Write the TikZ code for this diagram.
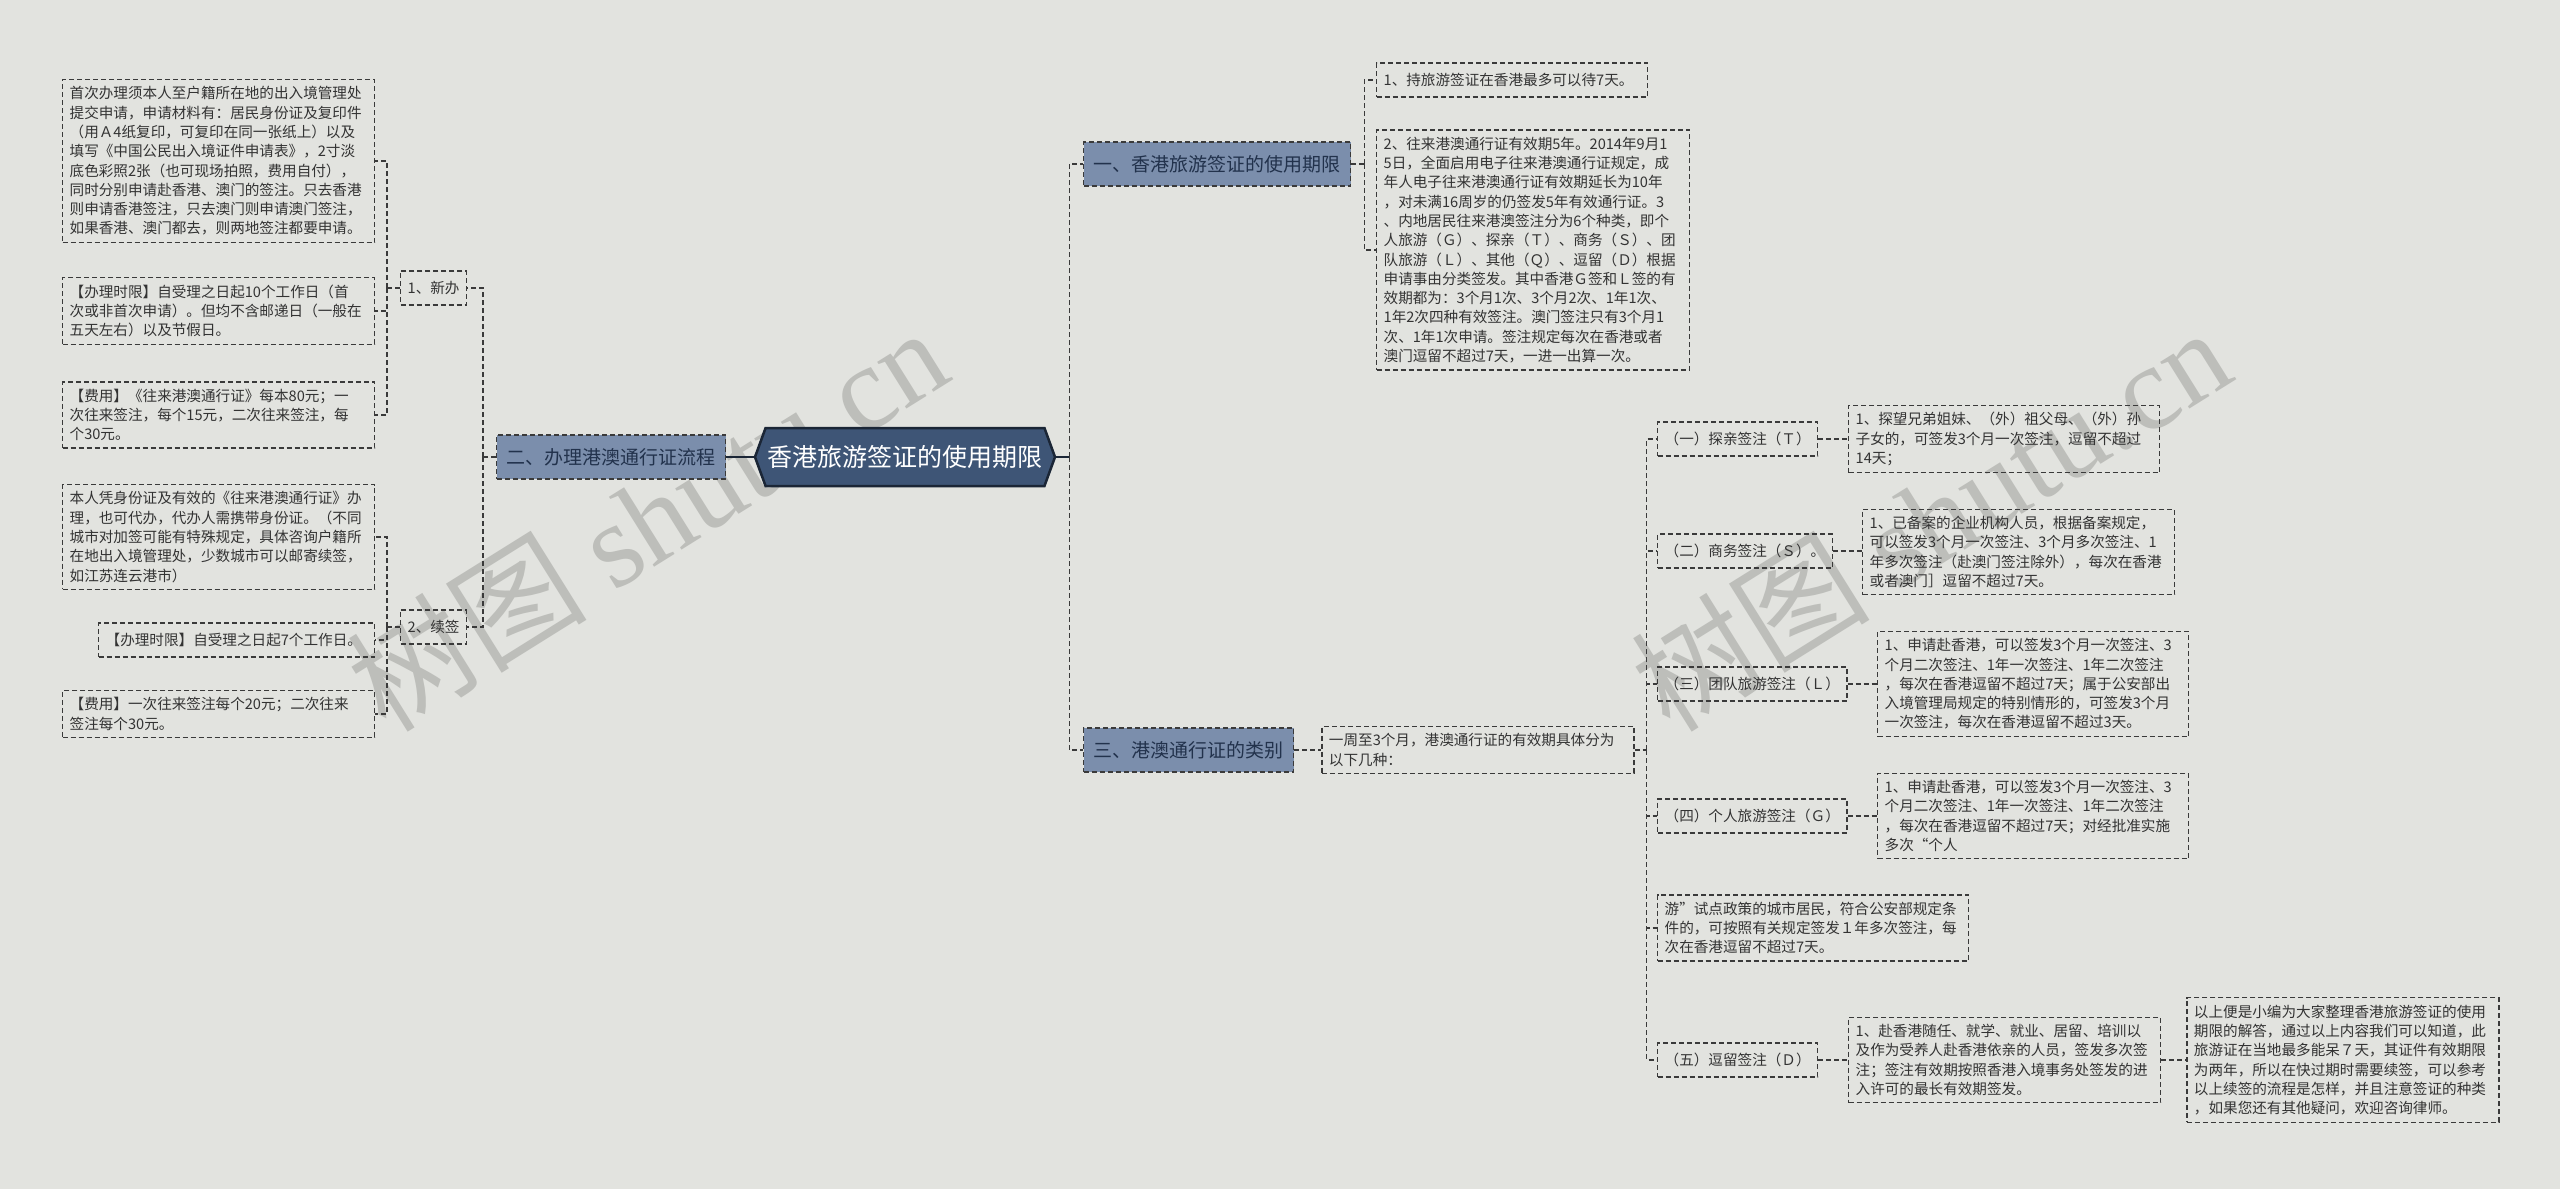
\documentclass[tikz,border=0pt]{standalone}
\usepackage{fontspec}
\setmainfont{Noto Sans CJK SC}
\newfontfamily\wmserif{Liberation Serif}
\usetikzlibrary{positioning,shapes.symbols}

\definecolor{bgc}{HTML}{E2E3DF}
\definecolor{linec}{HTML}{3A3A3A}
\definecolor{leaftext}{HTML}{333333}
\definecolor{catfill}{HTML}{7B8EAC}
\definecolor{cattext}{HTML}{22324C}
\definecolor{rootfill}{HTML}{3E5576}
\definecolor{rootline}{HTML}{1B2636}
\definecolor{wmc}{HTML}{BDBEBA}

\tikzset{
  leaf/.style={draw=linec,line width=1.3pt,dash pattern=on 5pt off 3pt,inner xsep=7pt,inner ysep=7pt,
    minimum height=34pt,align=left,anchor=west,text=leaftext,font=\fontsize{14.6pt}{19.3pt}\selectfont},
  cat/.style={draw=linec,line width=1.3pt,dash pattern=on 5pt off 3pt,fill=catfill,text=cattext,
    inner xsep=10pt,minimum height=44pt,anchor=west,font=\fontsize{19pt}{23pt}\selectfont},
  link/.style={draw=linec,line width=1.3pt,dash pattern=on 5pt off 3pt},
  trunk/.style={draw=rootline,line width=2pt},
  wm/.style={text=wmc,font=\fontsize{120pt}{130pt}\selectfont,inner sep=0pt}
}

\begin{document}
\begin{tikzpicture}[x=1pt,y=-1pt]
  \fill[bgc] (0,0) rectangle (2560,1189);
  \useasboundingbox (0,0) rectangle (2560,1189);
  \node[wm,rotate=32] (wml) at (647,518) {树图 {\wmserif shutu.cn}};
  \node[wm,rotate=32] (wmr) at (1930,518) {树图 {\wmserif shutu.cn}};

  \node[signal,signal to=west and east,signal pointer angle=140,fill=rootfill,draw=rootline,line width=2.5pt,
    text=white,font=\fontsize{25pt}{30pt}\selectfont,minimum width=300pt,minimum height=58pt,inner sep=0pt]
    (root) at (905,457) {香港旅游签证的使用期限};

  \node[cat] (two) at (496,457) {二、办理港澳通行证流程};
  \node[leaf] (xinban) at (400,288) {1、新办};
  \node[leaf] (xuqian) at (400,627) {2、续签};
  \node[leaf,text width=298pt] (a1) at (62,161) {首次办理须本人至户籍所在地的出入境管理处\\提交申请，申请材料有：居民身份证及复印件\\（用Ａ4纸复印，可复印在同一张纸上）以及\\填写《中国公民出入境证件申请表》，2寸淡\\底色彩照2张（也可现场拍照，费用自付），\\同时分别申请赴香港、澳门的签注。只去香港\\则申请香港签注，只去澳门则申请澳门签注，\\如果香港、澳门都去，则两地签注都要申请。};
  \node[leaf,text width=298pt] (a2) at (62,311) {【办理时限】自受理之日起10个工作日（首\\次或非首次申请）。但均不含邮递日（一般在\\五天左右）以及节假日。};
  \node[leaf,text width=298pt] (a3) at (62,415) {【费用】《往来港澳通行证》每本80元；一\\次往来签注，每个15元，二次往来签注，每\\个30元。};
  \node[leaf,text width=298pt] (b1) at (62,537) {本人凭身份证及有效的《往来港澳通行证》办\\理，也可代办，代办人需携带身份证。（不同\\城市对加签可能有特殊规定，具体咨询户籍所\\在地出入境管理处，少数城市可以邮寄续签，\\如江苏连云港市）};
  \node[leaf,text width=262pt] (b2) at (98,640) {【办理时限】自受理之日起7个工作日。};
  \node[leaf,text width=298pt] (b3) at (62,714) {【费用】一次往来签注每个20元；二次往来\\签注每个30元。};

  \node[cat] (one) at (1083,164) {一、香港旅游签证的使用期限};
  \node[leaf,text width=257pt] (r1) at (1376,80) {1、持旅游签证在香港最多可以待7天。};
  \node[leaf,text width=299pt] (r2) at (1376,250) {2、往来港澳通行证有效期5年。2014年9月1\\5日，全面启用电子往来港澳通行证规定，成\\年人电子往来港澳通行证有效期延长为10年\\，对未满16周岁的仍签发5年有效通行证。3\\、内地居民往来港澳签注分为6个种类，即个\\人旅游（Ｇ）、探亲（Ｔ）、商务（Ｓ）、团\\队旅游（Ｌ）、其他（Ｑ）、逗留（Ｄ）根据\\申请事由分类签发。其中香港Ｇ签和Ｌ签的有\\效期都为：3个月1次、3个月2次、1年1次、\\1年2次四种有效签注。澳门签注只有3个月1\\次、1年1次申请。签注规定每次在香港或者\\澳门逗留不超过7天，一进一出算一次。};

  \node[cat] (three) at (1083,750) {三、港澳通行证的类别};
  \node[leaf,text width=298pt,right=27pt of three] (mid) {一周至3个月，港澳通行证的有效期具体分为\\以下几种：};
  \node[leaf] (t) at (1657,439) {（一）探亲签注（Ｔ）};
  \node[leaf,text width=297pt] (td) at (1848,439) {1、探望兄弟姐妹、（外）祖父母、（外）孙\\子女的，可签发3个月一次签注，逗留不超过\\14天；};
  \node[leaf] (s) at (1657,551) {（二）商务签注（Ｓ）。};
  \node[leaf,text width=298pt] (sd) at (1862,552) {1、已备案的企业机构人员，根据备案规定，\\可以签发3个月一次签注、3个月多次签注、1\\年多次签注（赴澳门签注除外），每次在香港\\或者澳门］逗留不超过7天。};
  \node[leaf] (l) at (1657,684) {（三）团队旅游签注（Ｌ）};
  \node[leaf,text width=297pt] (ld) at (1877,684) {1、申请赴香港，可以签发3个月一次签注、3\\个月二次签注、1年一次签注、1年二次签注\\，每次在香港逗留不超过7天；属于公安部出\\入境管理局规定的特别情形的，可签发3个月\\一次签注，每次在香港逗留不超过3天。};
  \node[leaf] (g) at (1657,816) {（四）个人旅游签注（Ｇ）};
  \node[leaf,text width=297pt] (gd) at (1877,816) {1、申请赴香港，可以签发3个月一次签注、3\\个月二次签注、1年一次签注、1年二次签注\\，每次在香港逗留不超过7天；对经批准实施\\多次“个人};
  \node[leaf,text width=297pt] (you) at (1657,928) {游”试点政策的城市居民，符合公安部规定条\\件的，可按照有关规定签发１年多次签注，每\\次在香港逗留不超过7天。};
  \node[leaf] (d) at (1657,1060) {（五）逗留签注（Ｄ）};
  \node[leaf,text width=298pt] (dd) at (1848,1060) {1、赴香港随任、就学、就业、居留、培训以\\及作为受养人赴香港依亲的人员，签发多次签\\注；签注有效期按照香港入境事务处签发的进\\入许可的最长有效期签发。};
  \node[leaf,text width=298pt,right=25pt of dd] (fin) {以上便是小编为大家整理香港旅游签证的使用\\期限的解答，通过以上内容我们可以知道，此\\旅游证在当地最多能呆７天，其证件有效期限\\为两年，所以在快过期时需要续签，可以参考\\以上续签的流程是怎样，并且注意签证的种类\\，如果您还有其他疑问，欢迎咨询律师。};

  \draw[trunk] (two.east) -- (root.west);
  \draw[trunk] (root.east) -- ++(13,0) coordinate (rj);
  \draw[link] (rj) |- (one.west);
  \draw[link] (rj) |- (three.west);
  \draw[link] (one.east) -- ++(13,0) coordinate (oj);
  \foreach \n in {r1,r2} \draw[link] (oj) |- (\n.west);
  \draw[link] (three.east) -- (mid.west);
  \draw[link] (mid.east) -- ++(12,0) coordinate (mj);
  \foreach \n in {t,s,l,g,you,d} \draw[link] (mj) |- (\n.west);
  \foreach \a/\b in {t/td,s/sd,l/ld,g/gd,d/dd,dd/fin} \draw[link] (\a.east) -- (\a.east -| \b.west);
  \draw[link] (two.west) -- ++(-13,0) coordinate (lj);
  \foreach \n in {xinban,xuqian} \draw[link] (lj) |- (\n.east);
  \draw[link] (xinban.west) -- ++(-13,0) coordinate (xj);
  \foreach \n in {a1,a2,a3} \draw[link] (xj) |- (\n.east);
  \draw[link] (xuqian.west) -- ++(-13,0) coordinate (qj);
  \foreach \n in {b1,b2,b3} \draw[link] (qj) |- (\n.east);
\end{tikzpicture}
\end{document}
